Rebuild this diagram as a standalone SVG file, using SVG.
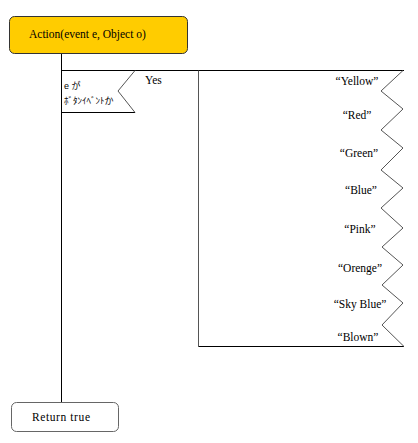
<svg xmlns="http://www.w3.org/2000/svg" width="418" height="443" viewBox="0 0 418 443">
<style>
text{font-family:"Liberation Serif",serif;font-size:11.5px;fill:#000}
.j{font-family:"Liberation Sans","Noto Sans CJK JP",sans-serif;font-size:9px}
.ln{stroke:#000;stroke-width:1;fill:none}
.gl{stroke:#555;stroke-width:1;fill:none}
.c{text-anchor:middle}
</style>
<rect width="418" height="443" fill="#fff"/>
<g id="connectors">
<line class="ln" x1="61.5" y1="54" x2="61.5" y2="402"/>
</g>
<g id="start">
<rect x="9.5" y="16.5" width="178" height="37" rx="5" fill="#FFCC00" stroke="#333"/>
<text x="29" y="38">Action(event e, Object o)</text>
</g>
<g id="condition">
<line class="ln" x1="61.5" y1="70.5" x2="404" y2="70.5"/>
<line class="ln" x1="61.5" y1="112.5" x2="135" y2="112.5"/>
<polyline class="gl" points="135,70.5 118,91 135,112.5"/>
<text class="j" x="64" y="89">e が</text>
<text class="j" x="64" y="104">ﾎﾞﾀﾝｲﾍﾞﾝﾄか</text>
<text x="145" y="84">Yes</text>
</g>
<g id="switch">
<line class="gl" x1="198.5" y1="70.5" x2="198.5" y2="346.5"/>
<line class="ln" x1="198.5" y1="346.5" x2="404" y2="346.5"/>
<polyline class="gl" points="403,70.5 381,91 403,109 381,130 403,148 381,170 403,188 381,208 403,228 382,247 403,265 382,285 403,303 382,325 404,346.5"/>
<text class="c" x="357" y="85">“Yellow”</text>
<text class="c" x="357" y="119">“Red”</text>
<text class="c" x="359" y="157">“Green”</text>
<text class="c" x="361" y="194">“Blue”</text>
<text class="c" x="360" y="233">“Pink”</text>
<text class="c" x="360" y="272">“Orenge”</text>
<text class="c" x="360" y="308">“Sky Blue”</text>
<text class="c" x="358" y="341">“Blown”</text>
</g>
<g id="end">
<rect x="11.5" y="402.5" width="107" height="29" rx="5" fill="#fff" stroke="#666"/>
<text x="32" y="421" textLength="58">Return true</text>
</g>
</svg>
